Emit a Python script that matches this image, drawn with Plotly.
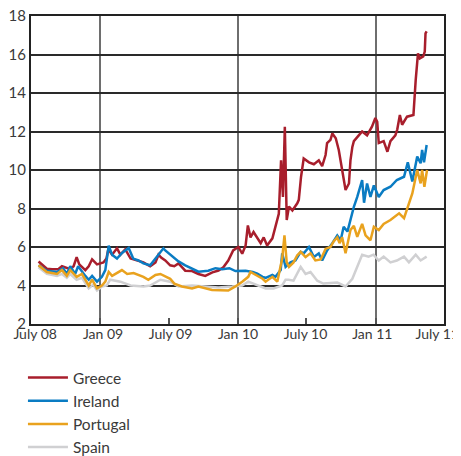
import plotly.graph_objects as go

greece_dates = ["2008-07-21","2008-08-12","2008-08-26","2008-09-11","2008-09-21","2008-10-03","2008-10-13","2008-10-22","2008-10-30","2008-11-06","2008-11-22","2008-12-01","2008-12-10","2008-12-23","2009-01-01","2009-01-09","2009-01-17","2009-01-22","2009-02-01","2009-02-14","2009-02-23","2009-03-08","2009-03-22","2009-04-09","2009-04-25","2009-05-13","2009-05-27","2009-06-04","2009-06-11","2009-06-22","2009-07-05","2009-07-16","2009-07-27","2009-08-14","2009-09-01","2009-09-18","2009-10-06","2009-10-25","2009-11-10","2009-11-23","2009-12-06","2009-12-19","2010-01-02","2010-01-12","2010-01-21","2010-01-27","2010-02-03","2010-02-11","2010-02-20","2010-03-02","2010-03-10","2010-03-19","2010-04-02","2010-04-10","2010-04-15","2010-04-19","2010-04-25","2010-04-30","2010-05-05","2010-05-10","2010-05-16","2010-05-25","2010-06-07","2010-06-11","2010-06-17","2010-06-24","2010-07-08","2010-07-21","2010-08-03","2010-08-12","2010-08-21","2010-08-25","2010-09-03","2010-09-08","2010-09-17","2010-09-25","2010-10-04","2010-10-13","2010-10-22","2010-10-26","2010-10-31","2010-11-04","2010-11-17","2010-11-26","2010-12-09","2010-12-22","2010-12-31","2011-01-05","2011-01-09","2011-01-22","2011-02-01","2011-02-09","2011-02-22","2011-02-27","2011-03-06","2011-03-12","2011-03-25","2011-04-11","2011-04-17","2011-04-23","2011-04-28","2011-05-07","2011-05-11","2011-05-13","2011-05-16"]
greece_vals = [5.25,4.87,4.85,4.85,5.0,4.9,4.85,5.0,5.47,5.1,4.8,5.0,5.36,5.1,5.15,5.2,5.4,5.88,5.6,5.93,5.6,5.88,5.4,5.3,5.2,5.0,5.2,5.6,5.45,5.3,5.05,5.0,5.15,4.77,4.75,4.6,4.5,4.68,4.78,4.95,5.3,5.82,6.0,5.65,6.08,7.12,6.5,6.78,6.52,6.2,6.5,6.08,6.45,7.0,7.4,7.73,10.5,8.6,12.25,7.4,8.1,7.9,8.27,8.45,9.65,10.6,10.4,10.3,10.5,10.2,10.78,11.4,11.57,11.9,11.65,11.04,10.0,8.96,9.3,10.5,11.2,11.5,11.8,12.0,11.8,12.25,12.7,12.5,11.4,11.5,10.95,11.5,11.8,12.1,12.86,12.35,12.77,12.86,14.68,16.06,15.8,15.9,16.15,17.1,17.2]

ireland_dates = ["2008-07-21","2008-08-12","2008-09-08","2008-09-24","2008-10-04","2008-10-13","2008-10-26","2008-11-03","2008-11-22","2008-12-01","2008-12-10","2008-12-23","2009-01-05","2009-01-14","2009-01-23","2009-02-01","2009-02-14","2009-02-28","2009-03-17","2009-03-29","2009-04-12","2009-04-25","2009-05-13","2009-06-04","2009-06-17","2009-06-22","2009-07-05","2009-07-27","2009-08-14","2009-09-01","2009-09-18","2009-10-14","2009-11-02","2009-11-20","2009-12-09","2009-12-25","2010-01-21","2010-02-09","2010-02-21","2010-03-07","2010-03-15","2010-04-02","2010-04-10","2010-04-24","2010-04-28","2010-05-07","2010-05-20","2010-06-02","2010-06-16","2010-06-24","2010-07-08","2010-07-21","2010-08-03","2010-08-12","2010-08-25","2010-09-08","2010-09-21","2010-09-30","2010-10-08","2010-10-18","2010-10-26","2010-11-04","2010-11-13","2010-11-26","2010-12-01","2010-12-09","2010-12-18","2010-12-27","2011-01-09","2011-01-22","2011-02-09","2011-02-26","2011-03-17","2011-03-27","2011-04-08","2011-04-21","2011-04-30","2011-05-04","2011-05-09","2011-05-16"]
ireland_vals = [5.05,4.77,4.7,4.9,4.6,5.0,4.6,5.0,4.5,4.3,4.5,4.2,4.45,4.8,6.07,5.6,5.4,5.7,5.95,5.4,5.3,5.15,5.05,5.6,5.93,5.82,5.6,5.25,5.05,4.88,4.72,4.77,4.9,4.85,4.9,4.75,4.77,4.7,4.62,4.45,4.4,4.55,4.45,4.8,5.67,4.97,5.2,5.3,5.75,5.67,6.0,5.48,5.67,5.3,5.82,6.2,6.6,6.35,7.05,6.8,7.4,8.09,8.6,9.48,8.3,9.3,8.6,9.2,8.6,8.96,9.13,9.48,9.65,10.4,9.4,10.7,10.35,11.04,10.4,11.3]

portugal_dates = ["2008-07-21","2008-08-12","2008-09-08","2008-09-21","2008-10-04","2008-10-13","2008-10-30","2008-11-13","2008-12-01","2008-12-10","2008-12-23","2009-01-05","2009-01-14","2009-01-23","2009-02-01","2009-02-27","2009-03-13","2009-03-30","2009-04-25","2009-05-08","2009-05-27","2009-06-09","2009-07-05","2009-07-16","2009-08-05","2009-09-01","2009-09-18","2009-10-24","2009-12-06","2009-12-25","2010-01-12","2010-01-28","2010-02-03","2010-02-16","2010-03-07","2010-03-15","2010-04-02","2010-04-15","2010-04-28","2010-05-04","2010-05-10","2010-05-16","2010-05-28","2010-06-07","2010-06-16","2010-06-29","2010-07-12","2010-07-25","2010-08-08","2010-08-21","2010-09-03","2010-09-12","2010-09-21","2010-09-27","2010-10-04","2010-10-13","2010-10-26","2010-11-04","2010-11-13","2010-11-26","2010-12-05","2010-12-18","2010-12-27","2011-01-09","2011-01-22","2011-02-09","2011-03-04","2011-03-17","2011-03-27","2011-04-08","2011-04-21","2011-04-30","2011-05-04","2011-05-10","2011-05-17"]
portugal_vals = [5.05,4.7,4.6,4.8,4.5,4.8,4.45,4.6,4.0,4.3,3.85,4.0,4.2,4.7,4.5,4.8,4.6,4.65,4.45,4.3,4.55,4.6,4.35,4.1,3.95,3.85,3.95,3.77,3.74,3.95,4.2,4.45,4.7,4.55,4.35,4.2,4.45,4.2,5.4,6.6,5.2,4.97,5.2,5.57,5.75,5.48,5.67,5.3,5.35,5.9,6.0,6.3,6.5,6.2,6.5,5.67,6.88,7.1,6.53,7.2,6.6,6.35,7.05,6.88,7.2,7.4,7.75,7.5,8.09,8.78,10.0,9.3,10.0,9.13,10.0]

spain_dates = ["2008-07-21","2008-08-12","2008-09-08","2008-09-21","2008-10-04","2008-10-13","2008-10-30","2008-11-13","2008-12-01","2008-12-13","2008-12-23","2009-01-05","2009-01-18","2009-01-27","2009-02-23","2009-03-22","2009-04-25","2009-05-13","2009-06-09","2009-07-05","2009-07-27","2009-09-01","2009-10-06","2009-11-10","2009-12-16","2010-01-12","2010-01-28","2010-02-25","2010-03-15","2010-04-05","2010-04-28","2010-05-07","2010-05-15","2010-05-28","2010-06-10","2010-06-16","2010-06-29","2010-07-12","2010-07-30","2010-08-15","2010-09-21","2010-10-13","2010-10-31","2010-11-13","2010-11-26","2010-12-13","2010-12-26","2011-01-09","2011-01-22","2011-02-09","2011-02-26","2011-03-17","2011-03-30","2011-04-17","2011-04-30","2011-05-16"]
spain_vals = [4.95,4.6,4.5,4.6,4.4,4.6,4.3,4.4,3.85,4.05,3.75,3.95,4.0,4.3,4.2,4.0,3.95,4.0,4.3,4.2,3.95,4.0,3.95,3.9,3.95,4.0,4.2,4.0,3.85,3.85,4.0,4.3,4.3,4.25,4.7,4.97,4.6,4.7,4.25,4.1,4.15,3.95,4.35,4.97,5.6,5.5,5.6,5.3,5.5,5.2,5.3,5.5,5.2,5.6,5.3,5.5]

tick_dates = ["2008-07-01","2009-01-01","2009-07-01","2010-01-01","2010-07-01","2011-01-01","2011-07-01"]
tick_labels = ["July 08","Jan 09","July 09","Jan 10","July 10","Jan 11","July 11"]
# labels in the source sit evenly spaced, slightly off their ticks
label_dates = ["2008-07-12","2009-01-08","2009-07-06","2010-01-01","2010-06-29","2010-12-23","2011-06-13"]
grid_dates = ["2009-01-01","2010-01-01","2011-01-01"]
y_ticks = [2,4,6,8,10,12,14,16,18]

FONT = "Lato, 'Open Sans', sans-serif"
fig = go.Figure()
series = [
    ("Spain", spain_dates, spain_vals, "#D0D0D2", 4),
    ("Greece", greece_dates, greece_vals, "#A81E2C", 1),
    ("Ireland", ireland_dates, ireland_vals, "#0A7CC3", 2),
    ("Portugal", portugal_dates, portugal_vals, "#E9A21E", 3),
]
for name, d, v, c, rank in series:
    fig.add_trace(go.Scatter(x=d, y=v, mode="lines", name=name,
                             line=dict(color=c, width=2.5), legendrank=rank))
# empty trace so the label-only axis is drawn
fig.add_trace(go.Scatter(x=[], y=[], xaxis="x2", yaxis="y", showlegend=False,
                         hoverinfo="skip", mode="lines"))

XRANGE = ["2008-07-01", "2011-07-01"]
# the page body has an 8px default margin, so the figure is 8px smaller
fig.update_layout(
    width=453, height=448,
    margin=dict(l=23, r=17, t=8, b=132, autoexpand=False),
    paper_bgcolor="white", plot_bgcolor="white",
    font=dict(family=FONT, color="#3a3a3a", size=14),
    showlegend=True,
    legend=dict(orientation="v", xref="container", yref="container",
                x=0.033, y=0.212, xanchor="left", yanchor="top",
                font=dict(size=15.5, color="#3a3a3a"), itemwidth=40,
                tracegroupgap=0, bgcolor="rgba(0,0,0,0)"),
    xaxis=dict(type="date", range=XRANGE, automargin=False,
               tickvals=tick_dates, showticklabels=False,
               ticks="inside", ticklen=6, tickcolor="#555", tickwidth=1.5,
               showgrid=False, showline=True, linecolor="#222", linewidth=2, mirror=True,
               zeroline=False,
               minor=dict(tickvals=grid_dates, showgrid=True, gridcolor="#6e6e6e", gridwidth=1.5, ticks="")),
    xaxis2=dict(type="date", range=XRANGE, overlaying="x", anchor="y", side="bottom",
                automargin=False, tickvals=label_dates, ticktext=tick_labels,
                ticks="", showgrid=False, showline=False, zeroline=False,
                ticklabeloverflow="allow", tickfont=dict(size=14)),
    yaxis=dict(range=[2, 18], tickvals=y_ticks, ticks="", showgrid=True, automargin=False,
               ticklabeloverflow="allow",
               gridcolor="#2a2a2a", gridwidth=1.5, showline=True, linecolor="#222",
               linewidth=2, mirror=True, zeroline=False, tickfont=dict(size=15)),
)
# hide the page scrollbar so it does not clip the right edge
fig.write_html("out.html", post_script="document.documentElement.style.overflow='hidden';document.body.style.overflow='hidden';")
